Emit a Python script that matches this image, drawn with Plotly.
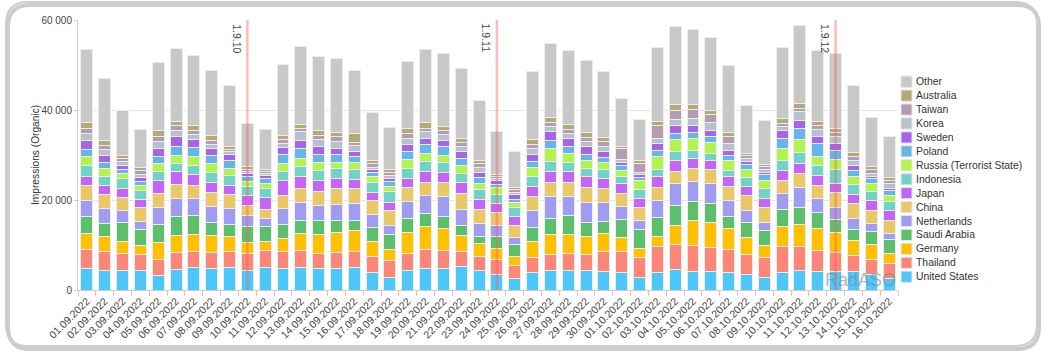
import plotly.graph_objects as go

dates = ["01.09.2022","02.09.2022","03.09.2022","04.09.2022","05.09.2022","06.09.2022","07.09.2022",
         "08.09.2022","09.09.2022","10.09.2022","11.09.2022","12.09.2022","13.09.2022","14.09.2022",
         "15.09.2022","16.09.2022","17.09.2022","18.09.2022","19.09.2022","20.09.2022","21.09.2022",
         "22.09.2022","23.09.2022","24.09.2022","25.09.2022","26.09.2022","27.09.2022","28.09.2022",
         "29.09.2022","30.09.2022","01.10.2022","02.10.2022","03.10.2022","04.10.2022","05.10.2022",
         "06.10.2022","07.10.2022","08.10.2022","09.10.2022","10.10.2022","11.10.2022","12.10.2022",
         "13.10.2022","14.10.2022","15.10.2022","16.10.2022"]

united_states = [4670,4300,4300,4370,3190,4520,4960,4810,5040,4300,5110,4670,4960,4670,4810,5110,3930,2890,4370,4670,4670,5190,4300,3480,2590,3930,4370,4370,4370,4220,3850,2740,4000,4520,4220,4150,4000,3480,2670,3930,4300,4070,4070,4070,3480,2590]
thailand = [4370,4220,3780,3480,3700,3850,3700,3480,3480,3780,3560,3850,3780,3480,3630,3410,3480,3560,3850,4300,4070,3410,3110,3190,2890,3190,3630,3850,3630,4300,4670,4520,5630,5700,5560,5260,5040,4300,4590,5700,5260,4810,4300,3560,3190,3330]
germany = [3480,3260,2590,2000,3560,3700,3780,3780,3480,2370,2000,2960,3780,4220,4440,4810,3260,2520,4520,5040,4890,3410,2890,2590,1930,3560,4440,4220,4000,3930,3110,2070,2370,4220,5700,5630,4590,3930,2740,4590,5040,4740,4370,3410,3480,2150]
saudi_arabia = [3780,2960,4300,3700,4150,4300,4070,2960,2520,3560,3410,3110,2960,3040,2670,2150,3330,3330,3260,2960,2810,2300,1480,2590,2670,3260,3410,4070,2960,2740,4070,4150,4070,4440,4150,4150,2670,3260,3330,3560,3700,3630,2960,2300,2960,3260]
netherlands = [3700,3410,2590,1700,3780,4000,3780,3630,3630,2440,1700,3560,4000,3480,3560,3780,2670,2000,3630,3930,4300,3560,3040,2590,1560,3780,4890,4220,4590,4150,2960,1930,3930,4740,4520,4440,3560,2670,1780,3700,4520,3110,2740,2590,1780,1260]
china = [3190,3110,2960,3040,3110,3110,3040,3040,3110,2300,2150,2960,3110,2960,3480,3190,3190,3260,3110,2960,3190,3480,3040,2810,2740,3110,3190,3190,3190,3110,2740,2890,2890,2810,2890,3040,3190,3260,3190,2960,2960,2960,3190,3260,2810,2890]
japan = [2070,2070,2070,1850,2740,2810,2300,2220,2000,2150,2590,3260,2740,2440,2220,2070,1850,1930,2150,2370,2220,2520,2300,1930,1930,2220,2370,2520,2440,2300,2220,2000,2370,2300,2220,2220,2070,2070,2070,2070,2300,2220,2000,1930,2150,2150]
indonesia = [2300,2000,2150,2070,2150,1850,2000,2220,2150,2000,2000,2070,2070,2220,2150,2370,2150,2300,2220,2300,2150,2000,2150,2000,2000,2070,2150,2000,1930,1930,1560,2000,1630,2150,1700,1480,1410,1930,2220,2370,2440,2220,3190,2220,2150,2070]
russia = [2070,1630,1110,1110,1630,1850,2000,2000,1630,1260,1040,1630,1850,1780,1480,1410,1330,1260,1850,1780,1700,1780,1410,1630,1110,2070,2890,2000,1780,1700,1480,1930,2740,2590,2740,2440,2300,1850,1850,2590,2960,1930,2150,1930,1700,1410]
poland = [1700,1330,960,810,1630,2000,1930,1850,1700,1040,1190,2150,2300,1930,1630,1330,960,1040,1850,1930,1850,1630,1260,740,740,1330,1850,1410,1190,960,960,810,1410,1330,1260,1260,960,1110,1190,2220,2440,2810,2000,1260,1040,960]
sweden = [2000,1560,960,810,1850,2070,1780,1480,1330,670,590,1480,1630,1700,1410,1260,590,670,1480,1480,1480,1480,1040,740,1040,1630,1930,1850,1700,1480,670,590,1560,1700,1700,1480,1190,670,590,1700,1700,1560,1480,1110,520,590]
korea = [1560,1330,740,740,1480,1480,1110,890,670,440,440,810,2070,1630,1630,1190,590,590,1480,1410,1260,1110,1190,520,440,1190,1110,1190,1260,1110,670,520,960,1480,1560,1780,1630,590,590,1040,2000,1700,1630,1110,590,1040]
taiwan = [1040,960,740,810,1190,960,960,890,590,520,520,960,670,890,960,810,890,810,960,810,810,960,810,440,590,890,890,740,960,1040,2520,1930,2890,1930,1850,1700,1410,740,740,670,740,810,960,960,960,670]
australia = [1190,1040,740,670,1190,1040,1040,1040,590,520,590,960,960,1110,1040,1780,520,590,1110,1190,890,810,740,520,520,1110,1190,1190,960,890,520,590,890,1260,1190,890,890,440,440,1040,1040,960,960,740,590,590]
other = [16220,13930,9850,8590,15190,16150,15630,14590,13560,9700,8810,15780,17190,16300,16370,14070,10670,9330,14890,16300,16300,15480,13330,9560,8000,15110,16520,16370,16000,14590,10520,9260,16440,17410,16740,16220,15040,10810,9700,15700,17480,15630,16590,14890,11040,9260]

series_names = ["United States","Thailand","Germany","Saudi Arabia","Netherlands","China","Japan",
                "Indonesia","Russia (Terrorist State)","Poland","Sweden","Korea","Taiwan","Australia","Other"]
series_values = [united_states, thailand, germany, saudi_arabia, netherlands, china, japan,
                 indonesia, russia, poland, sweden, korea, taiwan, australia, other]
series_colors = ["#4dc7fa","#fc8779","#ffc000","#5cbf6c","#a09cf2","#ebc866","#c465f8",
                 "#6fd3c6","#b2f44c","#63b5ec","#a763ea","#b4c3cb","#b59cb3","#b0ac73","#c8c8c8"]

release_dates = ["10.09.2022","24.09.2022","13.10.2022"]
release_labels = ["1.9.10","1.9.11","1.9.12"]

y_ticks = [0, 20000, 40000, 60000]
y_title = "Impressions (Organic)"

# layout geometry (pixels)
W, H = 1049, 354
ML, MR, MT, MB = 78, 151, 20, 64
PW, PH = W - ML - MR, H - MT - MB

def px(x):
    return (x - ML) / PW

def py(y):
    return (H - MB - y) / PH

FONT = "Liberation Sans, Arial, sans-serif"

fig = go.Figure()
for name, vals, col in zip(series_names, series_values, series_colors):
    fig.add_trace(go.Bar(
        x=dates, y=vals, name=name, showlegend=False,
        marker=dict(color=col, line=dict(color="#ececec", width=1)),
    ))

shapes = []
annotations = []

# release lines
for d, lab in zip(release_dates, release_labels):
    shapes.append(dict(type="line", xref="x", yref="paper", x0=d, x1=d, y0=0, y1=1,
                       line=dict(color="rgba(255,90,90,0.42)", width=2.5), layer="above"))
    annotations.append(dict(text=lab, x=d, xref="x", y=1, yref="paper", showarrow=False,
                            textangle=90, xanchor="right", yanchor="top", xshift=-2, yshift=-2,
                            font=dict(family=FONT, size=10.5, color="#444")))

# custom legend (top to bottom)
for i, idx in enumerate(range(len(series_names) - 1, -1, -1)):
    cy = 81.7 + i * 13.93
    shapes.append(dict(type="rect", xref="paper", yref="paper",
                       x0=px(901), x1=px(912), y0=py(cy + 5.6), y1=py(cy - 5.6),
                       fillcolor=series_colors[idx], line=dict(color="#e6e6e6", width=1)))
    annotations.append(dict(text=series_names[idx], x=px(914.5), y=py(cy), xref="paper", yref="paper",
                            xanchor="left", yanchor="middle", showarrow=False,
                            font=dict(family=FONT, size=10.4, color="#333")))

# y-axis title
annotations.append(dict(text=y_title, x=px(35), y=0.5, xref="paper", yref="paper",
                        textangle=-90, xanchor="center", yanchor="middle", showarrow=False,
                        font=dict(family=FONT, size=10.2, color="#333")))

# watermark
annotations.append(dict(text="RadASO", x=px(898), y=py(280), xref="paper", yref="paper",
                        xanchor="right", yanchor="middle", showarrow=False,
                        font=dict(family=FONT, size=18, color="rgba(125,135,155,0.62)")))

# rounded frame with shadow
def rrect(l, t, r, b, rad, dx=0, dy=0):
    l, t, r, b = l + dx, t + dy, r + dx, b + dy
    return (f"M {px(l+rad)},{py(t)} L {px(r-rad)},{py(t)} Q {px(r)},{py(t)} {px(r)},{py(t+rad)} "
            f"L {px(r)},{py(b-rad)} Q {px(r)},{py(b)} {px(r-rad)},{py(b)} "
            f"L {px(l+rad)},{py(b)} Q {px(l)},{py(b)} {px(l)},{py(b-rad)} "
            f"L {px(l)},{py(t+rad)} Q {px(l)},{py(t)} {px(l+rad)},{py(t)} Z")

shapes.insert(0, dict(type="path", xref="paper", yref="paper", path=rrect(6, 2, 1037, 346, 22, 2, 3),
                      line=dict(color="rgba(0,0,0,0.2)", width=4), layer="below"))
shapes.insert(1, dict(type="path", xref="paper", yref="paper", path=rrect(6, 2, 1037, 346, 22),
                      line=dict(color="#cdcdcd", width=2), layer="below"))

fig.update_layout(
    width=W, height=H,
    margin=dict(l=ML, r=MR, t=MT, b=MB),
    barmode="stack", bargap=0.33,
    paper_bgcolor="white", plot_bgcolor="white",
    separators=", ",
    font=dict(family=FONT, size=10.5, color="#444"),
    showlegend=False,
    shapes=shapes, annotations=annotations,
    xaxis=dict(type="category", tickangle=-45, tickfont=dict(size=10.5, color="#444"),
               ticks="outside", tickson="boundaries", ticklen=5, tickcolor="#cccccc",
               showline=True, linecolor="#cccccc", showgrid=False, automargin=False),
    yaxis=dict(range=[0, 60000], tickvals=y_ticks, tickformat=",d",
               tickfont=dict(size=10, color="#444"),
               showgrid=True, gridcolor="#e6e6e6", zeroline=False,
               showline=True, linecolor="#cccccc", ticks="outside", ticklen=3, tickcolor="#cccccc",
               automargin=False),
)

fig.write_html("out.html")
